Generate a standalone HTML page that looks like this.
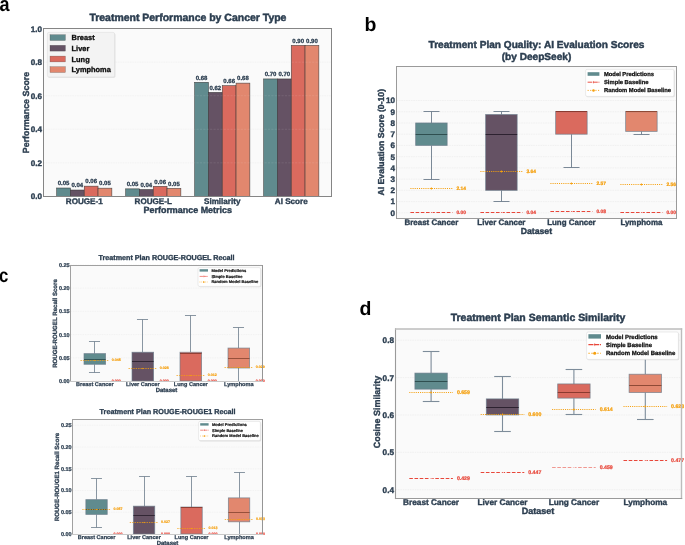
<!DOCTYPE html>
<html><head><meta charset="utf-8"><style>
html,body{margin:0;padding:0;background:#fff;}
svg{display:block;font-family:"Liberation Sans", sans-serif;text-rendering:geometricPrecision;}
</style></head><body>
<div style="will-change:transform;width:685px;height:545px"><svg width="685" height="545" viewBox="0 0 685 545">
<rect width="685" height="545" fill="#fff"/>
<text transform="translate(-0.60,10.60) scale(0.88,1)" font-size="20.5" fill="#000" font-weight="bold">a</text>
<text transform="translate(364.60,31.00) scale(1.0,1)" font-size="19.5" fill="#000" font-weight="bold">b</text>
<text transform="translate(-0.90,282.00) scale(0.86,1)" font-size="19.5" fill="#000" font-weight="bold">c</text>
<text transform="translate(359.40,315.00) scale(1.0,1)" font-size="19.5" fill="#000" font-weight="bold">d</text>
<rect x="43.50" y="28.50" width="288.00" height="168.00" fill="#fafafa" stroke="none" stroke-width="0" />
<line x1="43.50" y1="162.84" x2="331.50" y2="162.84" stroke="#f0f0f0" stroke-width="0.7" stroke-dasharray="1.6,0.8"/>
<line x1="43.50" y1="129.28" x2="331.50" y2="129.28" stroke="#f0f0f0" stroke-width="0.7" stroke-dasharray="1.6,0.8"/>
<line x1="43.50" y1="95.72" x2="331.50" y2="95.72" stroke="#f0f0f0" stroke-width="0.7" stroke-dasharray="1.6,0.8"/>
<line x1="43.50" y1="62.16" x2="331.50" y2="62.16" stroke="#f0f0f0" stroke-width="0.7" stroke-dasharray="1.6,0.8"/>
<text x="42.00" y="199.30" font-size="8.1" text-anchor="end" fill="#2c3e50" stroke="#2c3e50" stroke-width="0.364" font-weight="bold" >0.0</text>
<text x="42.00" y="165.74" font-size="8.1" text-anchor="end" fill="#2c3e50" stroke="#2c3e50" stroke-width="0.364" font-weight="bold" >0.2</text>
<text x="42.00" y="132.18" font-size="8.1" text-anchor="end" fill="#2c3e50" stroke="#2c3e50" stroke-width="0.364" font-weight="bold" >0.4</text>
<text x="42.00" y="98.62" font-size="8.1" text-anchor="end" fill="#2c3e50" stroke="#2c3e50" stroke-width="0.364" font-weight="bold" >0.6</text>
<text x="42.00" y="65.06" font-size="8.1" text-anchor="end" fill="#2c3e50" stroke="#2c3e50" stroke-width="0.364" font-weight="bold" >0.8</text>
<text x="42.00" y="31.50" font-size="8.1" text-anchor="end" fill="#2c3e50" stroke="#2c3e50" stroke-width="0.364" font-weight="bold" >1.0</text>
<rect x="56.65" y="188.01" width="13.80" height="8.39" fill="#608b8e" stroke="#333333" stroke-width="0.6" stroke-opacity="0.85"/>
<text x="63.55" y="185.31" font-size="6.0" text-anchor="middle" fill="#2c3e50" stroke="#2c3e50" stroke-width="0.270" font-weight="bold" >0.05</text>
<rect x="70.45" y="190.02" width="13.80" height="6.38" fill="#655264" stroke="#333333" stroke-width="0.6" stroke-opacity="0.85"/>
<text x="77.35" y="187.32" font-size="6.0" text-anchor="middle" fill="#2c3e50" stroke="#2c3e50" stroke-width="0.270" font-weight="bold" >0.04</text>
<rect x="84.25" y="186.16" width="13.80" height="10.24" fill="#da6a5e" stroke="#333333" stroke-width="0.6" stroke-opacity="0.85"/>
<text x="91.15" y="183.46" font-size="6.0" text-anchor="middle" fill="#2c3e50" stroke="#2c3e50" stroke-width="0.270" font-weight="bold" >0.06</text>
<rect x="98.05" y="188.18" width="13.80" height="8.22" fill="#e2876e" stroke="#333333" stroke-width="0.6" stroke-opacity="0.85"/>
<text x="104.95" y="185.48" font-size="6.0" text-anchor="middle" fill="#2c3e50" stroke="#2c3e50" stroke-width="0.270" font-weight="bold" >0.05</text>
<text x="84.25" y="203.90" font-size="8.1" text-anchor="middle" fill="#2c3e50" stroke="#2c3e50" stroke-width="0.364" font-weight="bold" >ROUGE-1</text>
<rect x="125.65" y="188.85" width="13.80" height="7.55" fill="#608b8e" stroke="#333333" stroke-width="0.6" stroke-opacity="0.85"/>
<text x="132.55" y="186.15" font-size="6.0" text-anchor="middle" fill="#2c3e50" stroke="#2c3e50" stroke-width="0.270" font-weight="bold" >0.05</text>
<rect x="139.45" y="189.52" width="13.80" height="6.88" fill="#655264" stroke="#333333" stroke-width="0.6" stroke-opacity="0.85"/>
<text x="146.35" y="186.82" font-size="6.0" text-anchor="middle" fill="#2c3e50" stroke="#2c3e50" stroke-width="0.270" font-weight="bold" >0.04</text>
<rect x="153.25" y="186.33" width="13.80" height="10.07" fill="#da6a5e" stroke="#333333" stroke-width="0.6" stroke-opacity="0.85"/>
<text x="160.15" y="183.63" font-size="6.0" text-anchor="middle" fill="#2c3e50" stroke="#2c3e50" stroke-width="0.270" font-weight="bold" >0.06</text>
<rect x="167.05" y="188.35" width="13.80" height="8.05" fill="#e2876e" stroke="#333333" stroke-width="0.6" stroke-opacity="0.85"/>
<text x="173.95" y="185.65" font-size="6.0" text-anchor="middle" fill="#2c3e50" stroke="#2c3e50" stroke-width="0.270" font-weight="bold" >0.05</text>
<text x="153.25" y="203.90" font-size="8.1" text-anchor="middle" fill="#2c3e50" stroke="#2c3e50" stroke-width="0.364" font-weight="bold" >ROUGE-L</text>
<rect x="194.65" y="82.30" width="13.80" height="114.10" fill="#608b8e" stroke="#333333" stroke-width="0.6" stroke-opacity="0.85"/>
<text x="201.55" y="79.60" font-size="6.0" text-anchor="middle" fill="#2c3e50" stroke="#2c3e50" stroke-width="0.270" font-weight="bold" >0.68</text>
<rect x="208.45" y="92.36" width="13.80" height="104.04" fill="#655264" stroke="#333333" stroke-width="0.6" stroke-opacity="0.85"/>
<text x="215.35" y="89.66" font-size="6.0" text-anchor="middle" fill="#2c3e50" stroke="#2c3e50" stroke-width="0.270" font-weight="bold" >0.62</text>
<rect x="222.25" y="85.65" width="13.80" height="110.75" fill="#da6a5e" stroke="#333333" stroke-width="0.6" stroke-opacity="0.85"/>
<text x="229.15" y="82.95" font-size="6.0" text-anchor="middle" fill="#2c3e50" stroke="#2c3e50" stroke-width="0.270" font-weight="bold" >0.66</text>
<rect x="236.05" y="83.13" width="13.80" height="113.27" fill="#e2876e" stroke="#333333" stroke-width="0.6" stroke-opacity="0.85"/>
<text x="242.95" y="80.43" font-size="6.0" text-anchor="middle" fill="#2c3e50" stroke="#2c3e50" stroke-width="0.270" font-weight="bold" >0.68</text>
<text x="222.25" y="203.90" font-size="8.1" text-anchor="middle" fill="#2c3e50" stroke="#2c3e50" stroke-width="0.364" font-weight="bold" >Similarity</text>
<rect x="263.65" y="78.94" width="13.80" height="117.46" fill="#608b8e" stroke="#333333" stroke-width="0.6" stroke-opacity="0.85"/>
<text x="270.55" y="76.24" font-size="6.0" text-anchor="middle" fill="#2c3e50" stroke="#2c3e50" stroke-width="0.270" font-weight="bold" >0.70</text>
<rect x="277.45" y="78.94" width="13.80" height="117.46" fill="#655264" stroke="#333333" stroke-width="0.6" stroke-opacity="0.85"/>
<text x="284.35" y="76.24" font-size="6.0" text-anchor="middle" fill="#2c3e50" stroke="#2c3e50" stroke-width="0.270" font-weight="bold" >0.70</text>
<rect x="291.25" y="45.38" width="13.80" height="151.02" fill="#da6a5e" stroke="#333333" stroke-width="0.6" stroke-opacity="0.85"/>
<text x="298.15" y="42.68" font-size="6.0" text-anchor="middle" fill="#2c3e50" stroke="#2c3e50" stroke-width="0.270" font-weight="bold" >0.90</text>
<rect x="305.05" y="45.38" width="13.80" height="151.02" fill="#e2876e" stroke="#333333" stroke-width="0.6" stroke-opacity="0.85"/>
<text x="311.95" y="42.68" font-size="6.0" text-anchor="middle" fill="#2c3e50" stroke="#2c3e50" stroke-width="0.270" font-weight="bold" >0.90</text>
<text x="291.25" y="203.90" font-size="8.1" text-anchor="middle" fill="#2c3e50" stroke="#2c3e50" stroke-width="0.364" font-weight="bold" >AI Score</text>
<line x1="43.50" y1="162.84" x2="331.50" y2="162.84" stroke="#ffffff" stroke-width="0.4" stroke-opacity="0.25" stroke-dasharray="2.2,1.2"/>
<line x1="43.50" y1="129.28" x2="331.50" y2="129.28" stroke="#ffffff" stroke-width="0.4" stroke-opacity="0.25" stroke-dasharray="2.2,1.2"/>
<line x1="43.50" y1="95.72" x2="331.50" y2="95.72" stroke="#ffffff" stroke-width="0.4" stroke-opacity="0.25" stroke-dasharray="2.2,1.2"/>
<line x1="43.50" y1="62.16" x2="331.50" y2="62.16" stroke="#ffffff" stroke-width="0.4" stroke-opacity="0.25" stroke-dasharray="2.2,1.2"/>
<line x1="43.50" y1="28.00" x2="43.50" y2="197.00" stroke="#858585" stroke-width="1.0" />
<line x1="43.00" y1="28.50" x2="332.00" y2="28.50" stroke="#858585" stroke-width="1.0" />
<line x1="331.50" y1="28.00" x2="331.50" y2="197.00" stroke="#858585" stroke-width="1.0" />
<line x1="43.00" y1="196.50" x2="332.00" y2="196.50" stroke="#858585" stroke-width="1.0" />
<rect x="48.20" y="33.20" width="67.20" height="44.60" rx="1.5" fill="#000" fill-opacity="0.1"/>
<rect x="47.40" y="32.40" width="67.20" height="44.60" rx="1.5" fill="#f3f3f3" stroke="#dddddd" stroke-width="0.6"/>
<rect x="50.00" y="34.70" width="15.40" height="5.80" fill="#608b8e" stroke="#3a3a3a" stroke-width="0.4" stroke-opacity="0.6"/>
<text x="71.60" y="40.25" font-size="7.4" text-anchor="start" fill="#111" stroke="#111" stroke-width="0.333" font-weight="bold" >Breast</text>
<rect x="50.00" y="45.30" width="15.40" height="5.80" fill="#655264" stroke="#3a3a3a" stroke-width="0.4" stroke-opacity="0.6"/>
<text x="71.60" y="50.85" font-size="7.4" text-anchor="start" fill="#111" stroke="#111" stroke-width="0.333" font-weight="bold" >Liver</text>
<rect x="50.00" y="56.10" width="15.40" height="5.80" fill="#da6a5e" stroke="#3a3a3a" stroke-width="0.4" stroke-opacity="0.6"/>
<text x="71.60" y="61.65" font-size="7.4" text-anchor="start" fill="#111" stroke="#111" stroke-width="0.333" font-weight="bold" >Lung</text>
<rect x="50.00" y="66.70" width="15.40" height="5.80" fill="#e2876e" stroke="#3a3a3a" stroke-width="0.4" stroke-opacity="0.6"/>
<text x="71.60" y="72.25" font-size="7.4" text-anchor="start" fill="#111" stroke="#111" stroke-width="0.333" font-weight="bold" >Lymphoma</text>
<text x="187.75" y="212.80" font-size="8.95" text-anchor="middle" fill="#2c3e50" stroke="#2c3e50" stroke-width="0.403" font-weight="bold" >Performance Metrics</text>
<text transform="translate(28.89,112.50) rotate(-90)" font-size="8.9" text-anchor="middle" fill="#2c3e50" stroke="#2c3e50" stroke-width="0.401" font-weight="bold">Performance Score</text>
<text x="187.90" y="21.00" font-size="10.47" text-anchor="middle" fill="#2c3e50" stroke="#2c3e50" stroke-width="0.471" font-weight="bold" >Treatment Performance by Cancer Type</text>
<rect x="396.50" y="66.50" width="280.00" height="152.00" fill="#fafafa" stroke="none" stroke-width="0" />
<line x1="396.50" y1="212.80" x2="676.50" y2="212.80" stroke="#ededed" stroke-width="0.7" stroke-dasharray="1.6,0.8"/>
<text x="395.00" y="215.70" font-size="8.1" text-anchor="end" fill="#2c3e50" stroke="#2c3e50" stroke-width="0.364" font-weight="bold" >0</text>
<line x1="396.50" y1="201.57" x2="676.50" y2="201.57" stroke="#ededed" stroke-width="0.7" stroke-dasharray="1.6,0.8"/>
<text x="395.00" y="204.47" font-size="8.1" text-anchor="end" fill="#2c3e50" stroke="#2c3e50" stroke-width="0.364" font-weight="bold" >1</text>
<line x1="396.50" y1="190.34" x2="676.50" y2="190.34" stroke="#ededed" stroke-width="0.7" stroke-dasharray="1.6,0.8"/>
<text x="395.00" y="193.24" font-size="8.1" text-anchor="end" fill="#2c3e50" stroke="#2c3e50" stroke-width="0.364" font-weight="bold" >2</text>
<line x1="396.50" y1="179.11" x2="676.50" y2="179.11" stroke="#ededed" stroke-width="0.7" stroke-dasharray="1.6,0.8"/>
<text x="395.00" y="182.01" font-size="8.1" text-anchor="end" fill="#2c3e50" stroke="#2c3e50" stroke-width="0.364" font-weight="bold" >3</text>
<line x1="396.50" y1="167.88" x2="676.50" y2="167.88" stroke="#ededed" stroke-width="0.7" stroke-dasharray="1.6,0.8"/>
<text x="395.00" y="170.78" font-size="8.1" text-anchor="end" fill="#2c3e50" stroke="#2c3e50" stroke-width="0.364" font-weight="bold" >4</text>
<line x1="396.50" y1="156.65" x2="676.50" y2="156.65" stroke="#ededed" stroke-width="0.7" stroke-dasharray="1.6,0.8"/>
<text x="395.00" y="159.55" font-size="8.1" text-anchor="end" fill="#2c3e50" stroke="#2c3e50" stroke-width="0.364" font-weight="bold" >5</text>
<line x1="396.50" y1="145.42" x2="676.50" y2="145.42" stroke="#ededed" stroke-width="0.7" stroke-dasharray="1.6,0.8"/>
<text x="395.00" y="148.32" font-size="8.1" text-anchor="end" fill="#2c3e50" stroke="#2c3e50" stroke-width="0.364" font-weight="bold" >6</text>
<line x1="396.50" y1="134.19" x2="676.50" y2="134.19" stroke="#ededed" stroke-width="0.7" stroke-dasharray="1.6,0.8"/>
<text x="395.00" y="137.09" font-size="8.1" text-anchor="end" fill="#2c3e50" stroke="#2c3e50" stroke-width="0.364" font-weight="bold" >7</text>
<line x1="396.50" y1="122.96" x2="676.50" y2="122.96" stroke="#ededed" stroke-width="0.7" stroke-dasharray="1.6,0.8"/>
<text x="395.00" y="125.86" font-size="8.1" text-anchor="end" fill="#2c3e50" stroke="#2c3e50" stroke-width="0.364" font-weight="bold" >8</text>
<line x1="396.50" y1="111.73" x2="676.50" y2="111.73" stroke="#ededed" stroke-width="0.7" stroke-dasharray="1.6,0.8"/>
<text x="395.00" y="114.63" font-size="8.1" text-anchor="end" fill="#2c3e50" stroke="#2c3e50" stroke-width="0.364" font-weight="bold" >9</text>
<line x1="396.50" y1="100.50" x2="676.50" y2="100.50" stroke="#ededed" stroke-width="0.7" stroke-dasharray="1.6,0.8"/>
<text x="395.00" y="103.40" font-size="8.1" text-anchor="end" fill="#2c3e50" stroke="#2c3e50" stroke-width="0.364" font-weight="bold" >10</text>
<line x1="431.50" y1="111.50" x2="431.50" y2="122.96" stroke="#6c7c8b" stroke-width="0.9" />
<line x1="423.50" y1="111.50" x2="439.50" y2="111.50" stroke="#6c7c8b" stroke-width="0.9" />
<line x1="431.50" y1="145.42" x2="431.50" y2="179.50" stroke="#6c7c8b" stroke-width="0.9" />
<line x1="423.50" y1="179.50" x2="439.50" y2="179.50" stroke="#6c7c8b" stroke-width="0.9" />
<rect x="415.65" y="122.96" width="31.50" height="22.46" fill="#608b8e" stroke="#6c7c8b" stroke-width="0.8" stroke-opacity="0.8"/>
<line x1="415.65" y1="134.50" x2="447.15" y2="134.50" stroke="#2f4f50" stroke-width="1.2" />
<line x1="410.40" y1="212.50" x2="452.40" y2="212.50" stroke="#e8473a" stroke-width="1.0" stroke-dasharray="3.60,1.60" stroke-opacity="1.0"/>
<rect x="430.20" y="211.70" width="2.40" height="1.60" fill="#fafafa" stroke="none" stroke-width="0" />
<circle cx="431.40" cy="212.50" r="0.55" fill="#e8473a" fill-opacity="1.0"/>
<line x1="410.40" y1="188.50" x2="452.40" y2="188.50" stroke="#f5a00f" stroke-width="1.1" stroke-dasharray="1.05,1.10" stroke-opacity="1.0"/>
<rect x="430.60" y="187.70" width="1.60" height="1.60" fill="#f5a00f" transform="rotate(45 431.40 188.50)"/>
<text x="456.40" y="189.67" font-size="4.9" text-anchor="start" fill="#f5a00f" stroke="#f5a00f" stroke-width="0.221" font-weight="bold" >2.14</text>
<text x="456.40" y="213.67" font-size="4.9" text-anchor="start" fill="#e8473a" stroke="#e8473a" stroke-width="0.221" font-weight="bold" >0.00</text>
<text x="431.40" y="225.45" font-size="7.95" text-anchor="middle" fill="#2c3e50" stroke="#2c3e50" stroke-width="0.358" font-weight="bold" >Breast Cancer</text>
<line x1="501.50" y1="111.50" x2="501.50" y2="114.54" stroke="#6c7c8b" stroke-width="0.9" />
<line x1="493.50" y1="111.50" x2="509.50" y2="111.50" stroke="#6c7c8b" stroke-width="0.9" />
<line x1="501.50" y1="190.34" x2="501.50" y2="201.50" stroke="#6c7c8b" stroke-width="0.9" />
<line x1="493.50" y1="201.50" x2="509.50" y2="201.50" stroke="#6c7c8b" stroke-width="0.9" />
<rect x="485.65" y="114.54" width="31.50" height="75.80" fill="#655264" stroke="#6c7c8b" stroke-width="0.8" stroke-opacity="0.8"/>
<line x1="485.65" y1="134.50" x2="517.15" y2="134.50" stroke="#2d2230" stroke-width="1.2" />
<line x1="480.40" y1="212.50" x2="522.40" y2="212.50" stroke="#e8473a" stroke-width="1.0" stroke-dasharray="3.60,1.60" stroke-opacity="1.0"/>
<rect x="500.20" y="211.70" width="2.40" height="1.60" fill="#fafafa" stroke="none" stroke-width="0" />
<circle cx="501.40" cy="212.50" r="0.55" fill="#e8473a" fill-opacity="1.0"/>
<line x1="480.40" y1="171.50" x2="522.40" y2="171.50" stroke="#f5a00f" stroke-width="1.1" stroke-dasharray="1.05,1.10" stroke-opacity="1.0"/>
<rect x="500.60" y="170.70" width="1.60" height="1.60" fill="#f5a00f" transform="rotate(45 501.40 171.50)"/>
<text x="526.40" y="172.67" font-size="4.9" text-anchor="start" fill="#f5a00f" stroke="#f5a00f" stroke-width="0.221" font-weight="bold" >3.64</text>
<text x="526.40" y="213.67" font-size="4.9" text-anchor="start" fill="#e8473a" stroke="#e8473a" stroke-width="0.221" font-weight="bold" >0.04</text>
<text x="501.40" y="225.45" font-size="7.95" text-anchor="middle" fill="#2c3e50" stroke="#2c3e50" stroke-width="0.358" font-weight="bold" >Liver Cancer</text>
<line x1="571.50" y1="134.19" x2="571.50" y2="167.50" stroke="#6c7c8b" stroke-width="0.9" />
<line x1="563.50" y1="167.50" x2="579.50" y2="167.50" stroke="#6c7c8b" stroke-width="0.9" />
<rect x="555.65" y="111.73" width="31.50" height="22.46" fill="#da6a5e" stroke="#6c7c8b" stroke-width="0.8" stroke-opacity="0.8"/>
<line x1="555.65" y1="111.50" x2="587.15" y2="111.50" stroke="#8a3a30" stroke-width="1.2" />
<line x1="550.40" y1="211.50" x2="592.40" y2="211.50" stroke="#e8473a" stroke-width="1.0" stroke-dasharray="3.60,1.60" stroke-opacity="1.0"/>
<rect x="570.20" y="210.70" width="2.40" height="1.60" fill="#fafafa" stroke="none" stroke-width="0" />
<circle cx="571.40" cy="211.50" r="0.55" fill="#e8473a" fill-opacity="1.0"/>
<line x1="550.40" y1="183.50" x2="592.40" y2="183.50" stroke="#f5a00f" stroke-width="1.1" stroke-dasharray="1.05,1.10" stroke-opacity="1.0"/>
<rect x="570.60" y="182.70" width="1.60" height="1.60" fill="#f5a00f" transform="rotate(45 571.40 183.50)"/>
<text x="596.40" y="184.67" font-size="4.9" text-anchor="start" fill="#f5a00f" stroke="#f5a00f" stroke-width="0.221" font-weight="bold" >2.57</text>
<text x="596.40" y="212.67" font-size="4.9" text-anchor="start" fill="#e8473a" stroke="#e8473a" stroke-width="0.221" font-weight="bold" >0.08</text>
<text x="571.40" y="225.45" font-size="7.95" text-anchor="middle" fill="#2c3e50" stroke="#2c3e50" stroke-width="0.358" font-weight="bold" >Lung Cancer</text>
<line x1="641.50" y1="131.38" x2="641.50" y2="134.50" stroke="#6c7c8b" stroke-width="0.9" />
<line x1="633.50" y1="134.50" x2="649.50" y2="134.50" stroke="#6c7c8b" stroke-width="0.9" />
<rect x="625.65" y="111.73" width="31.50" height="19.65" fill="#e2876e" stroke="#6c7c8b" stroke-width="0.8" stroke-opacity="0.8"/>
<line x1="625.65" y1="111.50" x2="657.15" y2="111.50" stroke="#8f4a36" stroke-width="1.2" />
<line x1="620.40" y1="212.50" x2="662.40" y2="212.50" stroke="#e8473a" stroke-width="1.0" stroke-dasharray="3.60,1.60" stroke-opacity="1.0"/>
<rect x="640.20" y="211.70" width="2.40" height="1.60" fill="#fafafa" stroke="none" stroke-width="0" />
<circle cx="641.40" cy="212.50" r="0.55" fill="#e8473a" fill-opacity="1.0"/>
<line x1="620.40" y1="184.50" x2="662.40" y2="184.50" stroke="#f5a00f" stroke-width="1.1" stroke-dasharray="1.05,1.10" stroke-opacity="1.0"/>
<rect x="640.60" y="183.70" width="1.60" height="1.60" fill="#f5a00f" transform="rotate(45 641.40 184.50)"/>
<text x="666.40" y="185.67" font-size="4.9" text-anchor="start" fill="#f5a00f" stroke="#f5a00f" stroke-width="0.221" font-weight="bold" >2.56</text>
<text x="666.40" y="213.67" font-size="4.9" text-anchor="start" fill="#e8473a" stroke="#e8473a" stroke-width="0.221" font-weight="bold" >0.00</text>
<text x="641.40" y="225.45" font-size="7.95" text-anchor="middle" fill="#2c3e50" stroke="#2c3e50" stroke-width="0.358" font-weight="bold" >Lymphoma</text>
<line x1="396.50" y1="66.00" x2="396.50" y2="219.00" stroke="#9a9a9a" stroke-width="1.0" />
<line x1="396.00" y1="66.50" x2="677.00" y2="66.50" stroke="#9a9a9a" stroke-width="1.0" />
<line x1="676.50" y1="66.00" x2="676.50" y2="219.00" stroke="#9a9a9a" stroke-width="1.0" />
<line x1="396.00" y1="218.50" x2="677.00" y2="218.50" stroke="#9a9a9a" stroke-width="1.0" />
<rect x="586.40" y="70.20" width="88.40" height="27.00" rx="1.5" fill="#000" fill-opacity="0.1"/>
<rect x="585.60" y="69.40" width="88.40" height="27.00" rx="1.5" fill="#ffffff" stroke="#dddddd" stroke-width="0.6"/>
<rect x="587.60" y="72.20" width="11.80" height="3.60" fill="#608b8e" stroke="none" stroke-width="0" />
<line x1="587.60" y1="82.20" x2="599.40" y2="82.20" stroke="#e8473a" stroke-width="0.936" stroke-dasharray="4.72,0.71"/>
<line x1="593.50" y1="80.94" x2="593.50" y2="83.46" stroke="#e8473a" stroke-width="0.5" />
<line x1="587.60" y1="90.40" x2="599.40" y2="90.40" stroke="#f5a00f" stroke-width="0.936" stroke-dasharray="1.08,1.53"/>
<circle cx="593.50" cy="90.40" r="1.26" fill="#f5a00f"/>
<text x="604.00" y="76.08" font-size="5.8" text-anchor="start" fill="#111" stroke="#111" stroke-width="0.261" font-weight="bold" >Model Predictions</text>
<text x="604.00" y="84.28" font-size="5.8" text-anchor="start" fill="#111" stroke="#111" stroke-width="0.261" font-weight="bold" >Simple Baseline</text>
<text x="604.00" y="92.48" font-size="5.8" text-anchor="start" fill="#111" stroke="#111" stroke-width="0.261" font-weight="bold" >Random Model Baseline</text>
<text x="536.40" y="234.31" font-size="8.7" text-anchor="middle" fill="#2c3e50" stroke="#2c3e50" stroke-width="0.391" font-weight="bold" >Dataset</text>
<text transform="translate(384.09,142.20) rotate(-90)" font-size="8.64" text-anchor="middle" fill="#2c3e50" stroke="#2c3e50" stroke-width="0.389" font-weight="bold">AI Evaluation Score (0-10)</text>
<text x="536.50" y="48.40" font-size="10.12" text-anchor="middle" fill="#2c3e50" stroke="#2c3e50" stroke-width="0.455" font-weight="bold" >Treatment Plan Quality: AI Evaluation Scores</text>
<text x="536.50" y="59.60" font-size="10.12" text-anchor="middle" fill="#2c3e50" stroke="#2c3e50" stroke-width="0.455" font-weight="bold" >(by DeepSeek)</text>
<rect x="70.50" y="265.50" width="192.00" height="116.00" fill="#fafafa" stroke="none" stroke-width="0" />
<text x="69.70" y="382.97" font-size="5.5" text-anchor="end" fill="#2c3e50" stroke="#2c3e50" stroke-width="0.247" font-weight="bold" >0.00</text>
<line x1="70.50" y1="357.80" x2="262.50" y2="357.80" stroke="#ededed" stroke-width="0.5" stroke-dasharray="1.6,0.8"/>
<text x="69.70" y="359.77" font-size="5.5" text-anchor="end" fill="#2c3e50" stroke="#2c3e50" stroke-width="0.247" font-weight="bold" >0.05</text>
<line x1="70.50" y1="334.60" x2="262.50" y2="334.60" stroke="#ededed" stroke-width="0.5" stroke-dasharray="1.6,0.8"/>
<text x="69.70" y="336.57" font-size="5.5" text-anchor="end" fill="#2c3e50" stroke="#2c3e50" stroke-width="0.247" font-weight="bold" >0.10</text>
<line x1="70.50" y1="311.40" x2="262.50" y2="311.40" stroke="#ededed" stroke-width="0.5" stroke-dasharray="1.6,0.8"/>
<text x="69.70" y="313.37" font-size="5.5" text-anchor="end" fill="#2c3e50" stroke="#2c3e50" stroke-width="0.247" font-weight="bold" >0.15</text>
<line x1="70.50" y1="288.20" x2="262.50" y2="288.20" stroke="#ededed" stroke-width="0.5" stroke-dasharray="1.6,0.8"/>
<text x="69.70" y="290.17" font-size="5.5" text-anchor="end" fill="#2c3e50" stroke="#2c3e50" stroke-width="0.247" font-weight="bold" >0.20</text>
<line x1="70.50" y1="265.00" x2="262.50" y2="265.00" stroke="#ededed" stroke-width="0.5" stroke-dasharray="1.6,0.8"/>
<text x="69.70" y="266.97" font-size="5.5" text-anchor="end" fill="#2c3e50" stroke="#2c3e50" stroke-width="0.247" font-weight="bold" >0.25</text>
<line x1="94.50" y1="341.50" x2="94.50" y2="353.62" stroke="#6c7c8b" stroke-width="0.8" />
<line x1="88.98" y1="341.50" x2="100.02" y2="341.50" stroke="#6c7c8b" stroke-width="0.8" />
<line x1="94.50" y1="364.30" x2="94.50" y2="372.50" stroke="#6c7c8b" stroke-width="0.8" />
<line x1="88.98" y1="372.50" x2="100.02" y2="372.50" stroke="#6c7c8b" stroke-width="0.8" />
<rect x="84.00" y="353.62" width="21.60" height="10.67" fill="#608b8e" stroke="#6c7c8b" stroke-width="0.8" stroke-opacity="0.8"/>
<line x1="84.00" y1="359.50" x2="105.60" y2="359.50" stroke="#2f4f50" stroke-width="0.9" />
<line x1="80.50" y1="381.50" x2="109.10" y2="381.50" stroke="#e8473a" stroke-width="0.68" stroke-dasharray="2.45,1.09" stroke-opacity="1.0"/>
<rect x="93.98" y="380.96" width="1.63" height="1.09" fill="#fafafa" stroke="none" stroke-width="0" />
<circle cx="94.80" cy="381.50" r="0.37" fill="#e8473a" fill-opacity="1.0"/>
<line x1="80.50" y1="360.50" x2="109.10" y2="360.50" stroke="#f5a00f" stroke-width="0.7480000000000001" stroke-dasharray="1.4,1.0" stroke-opacity="1.0"/>
<rect x="94.26" y="359.96" width="1.09" height="1.09" fill="#f5a00f" transform="rotate(45 94.80 360.50)"/>
<text x="111.82" y="361.36" font-size="3.6" text-anchor="start" fill="#f5a00f" stroke="#f5a00f" stroke-width="0.162" font-weight="bold" >0.045</text>
<text x="111.82" y="382.36" font-size="3.6" text-anchor="start" fill="#e8473a" stroke="#e8473a" stroke-width="0.162" font-weight="bold" >0.000</text>
<text x="94.80" y="385.99" font-size="5.55" text-anchor="middle" fill="#2c3e50" stroke="#2c3e50" stroke-width="0.250" font-weight="bold" >Breast Cancer</text>
<line x1="142.50" y1="319.50" x2="142.50" y2="352.23" stroke="#6c7c8b" stroke-width="0.8" />
<line x1="136.98" y1="319.50" x2="148.02" y2="319.50" stroke="#6c7c8b" stroke-width="0.8" />
<rect x="132.00" y="352.23" width="21.60" height="28.77" fill="#655264" stroke="#6c7c8b" stroke-width="0.8" stroke-opacity="0.8"/>
<line x1="132.00" y1="361.50" x2="153.60" y2="361.50" stroke="#2d2230" stroke-width="0.9" />
<line x1="128.50" y1="381.50" x2="157.10" y2="381.50" stroke="#e8473a" stroke-width="0.68" stroke-dasharray="2.45,1.09" stroke-opacity="1.0"/>
<rect x="141.98" y="380.96" width="1.63" height="1.09" fill="#fafafa" stroke="none" stroke-width="0" />
<circle cx="142.80" cy="381.50" r="0.37" fill="#e8473a" fill-opacity="1.0"/>
<line x1="128.50" y1="368.50" x2="157.10" y2="368.50" stroke="#f5a00f" stroke-width="0.7480000000000001" stroke-dasharray="1.4,1.0" stroke-opacity="1.0"/>
<rect x="142.26" y="367.96" width="1.09" height="1.09" fill="#f5a00f" transform="rotate(45 142.80 368.50)"/>
<text x="159.82" y="369.36" font-size="3.6" text-anchor="start" fill="#f5a00f" stroke="#f5a00f" stroke-width="0.162" font-weight="bold" >0.026</text>
<text x="159.82" y="382.36" font-size="3.6" text-anchor="start" fill="#e8473a" stroke="#e8473a" stroke-width="0.162" font-weight="bold" >0.000</text>
<text x="142.80" y="385.99" font-size="5.55" text-anchor="middle" fill="#2c3e50" stroke="#2c3e50" stroke-width="0.250" font-weight="bold" >Liver Cancer</text>
<line x1="190.50" y1="315.50" x2="190.50" y2="352.23" stroke="#6c7c8b" stroke-width="0.8" />
<line x1="184.98" y1="315.50" x2="196.02" y2="315.50" stroke="#6c7c8b" stroke-width="0.8" />
<rect x="180.00" y="352.23" width="21.60" height="28.77" fill="#da6a5e" stroke="#6c7c8b" stroke-width="0.8" stroke-opacity="0.8"/>
<line x1="180.00" y1="353.50" x2="201.60" y2="353.50" stroke="#8a3a30" stroke-width="0.9" />
<line x1="176.50" y1="381.50" x2="205.10" y2="381.50" stroke="#e8473a" stroke-width="0.68" stroke-dasharray="2.45,1.09" stroke-opacity="1.0"/>
<rect x="189.98" y="380.96" width="1.63" height="1.09" fill="#fafafa" stroke="none" stroke-width="0" />
<circle cx="190.80" cy="381.50" r="0.37" fill="#e8473a" fill-opacity="1.0"/>
<line x1="176.50" y1="375.50" x2="205.10" y2="375.50" stroke="#f5a00f" stroke-width="0.7480000000000001" stroke-dasharray="1.4,1.0" stroke-opacity="1.0"/>
<rect x="190.26" y="374.96" width="1.09" height="1.09" fill="#f5a00f" transform="rotate(45 190.80 375.50)"/>
<text x="207.82" y="376.36" font-size="3.6" text-anchor="start" fill="#f5a00f" stroke="#f5a00f" stroke-width="0.162" font-weight="bold" >0.012</text>
<text x="207.82" y="382.36" font-size="3.6" text-anchor="start" fill="#e8473a" stroke="#e8473a" stroke-width="0.162" font-weight="bold" >0.000</text>
<text x="190.80" y="385.99" font-size="5.55" text-anchor="middle" fill="#2c3e50" stroke="#2c3e50" stroke-width="0.250" font-weight="bold" >Lung Cancer</text>
<line x1="238.50" y1="327.50" x2="238.50" y2="348.06" stroke="#6c7c8b" stroke-width="0.8" />
<line x1="232.98" y1="327.50" x2="244.02" y2="327.50" stroke="#6c7c8b" stroke-width="0.8" />
<line x1="238.50" y1="368.01" x2="238.50" y2="381.50" stroke="#6c7c8b" stroke-width="0.8" />
<line x1="232.98" y1="381.50" x2="244.02" y2="381.50" stroke="#6c7c8b" stroke-width="0.8" />
<rect x="228.00" y="348.06" width="21.60" height="19.95" fill="#e2876e" stroke="#6c7c8b" stroke-width="0.8" stroke-opacity="0.8"/>
<line x1="228.00" y1="358.50" x2="249.60" y2="358.50" stroke="#8f4a36" stroke-width="0.9" />
<line x1="224.50" y1="381.50" x2="253.10" y2="381.50" stroke="#e8473a" stroke-width="0.68" stroke-dasharray="2.45,1.09" stroke-opacity="1.0"/>
<rect x="237.98" y="380.96" width="1.63" height="1.09" fill="#fafafa" stroke="none" stroke-width="0" />
<circle cx="238.80" cy="381.50" r="0.37" fill="#e8473a" fill-opacity="1.0"/>
<line x1="224.50" y1="367.50" x2="253.10" y2="367.50" stroke="#f5a00f" stroke-width="0.7480000000000001" stroke-dasharray="1.4,1.0" stroke-opacity="1.0"/>
<rect x="238.26" y="366.96" width="1.09" height="1.09" fill="#f5a00f" transform="rotate(45 238.80 367.50)"/>
<text x="255.82" y="368.36" font-size="3.6" text-anchor="start" fill="#f5a00f" stroke="#f5a00f" stroke-width="0.162" font-weight="bold" >0.029</text>
<text x="255.82" y="382.36" font-size="3.6" text-anchor="start" fill="#e8473a" stroke="#e8473a" stroke-width="0.162" font-weight="bold" >0.000</text>
<text x="238.80" y="385.99" font-size="5.55" text-anchor="middle" fill="#2c3e50" stroke="#2c3e50" stroke-width="0.250" font-weight="bold" >Lymphoma</text>
<line x1="70.50" y1="265.00" x2="70.50" y2="382.00" stroke="#a0a0a0" stroke-width="1.0" />
<line x1="70.00" y1="265.50" x2="263.00" y2="265.50" stroke="#a0a0a0" stroke-width="1.0" />
<line x1="262.50" y1="265.00" x2="262.50" y2="382.00" stroke="#959595" stroke-width="1.0" />
<line x1="70.00" y1="381.50" x2="263.00" y2="381.50" stroke="#c8c8c8" stroke-width="1.0" />
<rect x="198.80" y="268.40" width="62.60" height="18.80" rx="1.5" fill="#000" fill-opacity="0.1"/>
<rect x="198.00" y="267.60" width="62.60" height="18.80" rx="1.5" fill="#ffffff" stroke="#dddddd" stroke-width="0.6"/>
<rect x="199.60" y="269.20" width="8.40" height="2.40" fill="#608b8e" stroke="none" stroke-width="0" />
<line x1="199.60" y1="276.40" x2="208.00" y2="276.40" stroke="#e8473a" stroke-width="0.624" stroke-dasharray="3.36,0.50"/>
<line x1="203.80" y1="275.56" x2="203.80" y2="277.24" stroke="#e8473a" stroke-width="0.5" />
<line x1="199.60" y1="282.00" x2="208.00" y2="282.00" stroke="#f5a00f" stroke-width="0.624" stroke-dasharray="0.72,1.09"/>
<circle cx="203.80" cy="282.00" r="0.84" fill="#f5a00f"/>
<text x="211.40" y="271.85" font-size="4.05" text-anchor="start" fill="#111" stroke="#111" stroke-width="0.182" font-weight="bold" >Model Predictions</text>
<text x="211.40" y="277.85" font-size="4.05" text-anchor="start" fill="#111" stroke="#111" stroke-width="0.182" font-weight="bold" >Simple Baseline</text>
<text x="211.40" y="283.45" font-size="4.05" text-anchor="start" fill="#111" stroke="#111" stroke-width="0.182" font-weight="bold" >Random Model Baseline</text>
<text x="166.50" y="392.15" font-size="6.0" text-anchor="middle" fill="#2c3e50" stroke="#2c3e50" stroke-width="0.270" font-weight="bold" >Dataset</text>
<text transform="translate(57.38,323.50) rotate(-90)" font-size="6.1" text-anchor="middle" fill="#2c3e50" stroke="#2c3e50" stroke-width="0.274" font-weight="bold">ROUGE-ROUGEL Recall Score</text>
<text x="166.50" y="260.28" font-size="7.2" text-anchor="middle" fill="#2c3e50" stroke="#2c3e50" stroke-width="0.324" font-weight="bold" >Treatment Plan ROUGE-ROUGEL Recall</text>
<rect x="72.50" y="419.50" width="190.00" height="115.00" fill="#fafafa" stroke="none" stroke-width="0" />
<text x="71.70" y="535.97" font-size="5.5" text-anchor="end" fill="#2c3e50" stroke="#2c3e50" stroke-width="0.247" font-weight="bold" >0.00</text>
<line x1="72.50" y1="512.25" x2="262.50" y2="512.25" stroke="#ededed" stroke-width="0.5" stroke-dasharray="1.6,0.8"/>
<text x="71.70" y="514.22" font-size="5.5" text-anchor="end" fill="#2c3e50" stroke="#2c3e50" stroke-width="0.247" font-weight="bold" >0.05</text>
<line x1="72.50" y1="490.50" x2="262.50" y2="490.50" stroke="#ededed" stroke-width="0.5" stroke-dasharray="1.6,0.8"/>
<text x="71.70" y="492.47" font-size="5.5" text-anchor="end" fill="#2c3e50" stroke="#2c3e50" stroke-width="0.247" font-weight="bold" >0.10</text>
<line x1="72.50" y1="468.75" x2="262.50" y2="468.75" stroke="#ededed" stroke-width="0.5" stroke-dasharray="1.6,0.8"/>
<text x="71.70" y="470.72" font-size="5.5" text-anchor="end" fill="#2c3e50" stroke="#2c3e50" stroke-width="0.247" font-weight="bold" >0.15</text>
<line x1="72.50" y1="447.00" x2="262.50" y2="447.00" stroke="#ededed" stroke-width="0.5" stroke-dasharray="1.6,0.8"/>
<text x="71.70" y="448.97" font-size="5.5" text-anchor="end" fill="#2c3e50" stroke="#2c3e50" stroke-width="0.247" font-weight="bold" >0.20</text>
<line x1="72.50" y1="425.25" x2="262.50" y2="425.25" stroke="#ededed" stroke-width="0.5" stroke-dasharray="1.6,0.8"/>
<text x="71.70" y="427.22" font-size="5.5" text-anchor="end" fill="#2c3e50" stroke="#2c3e50" stroke-width="0.247" font-weight="bold" >0.25</text>
<line x1="96.50" y1="478.50" x2="96.50" y2="499.63" stroke="#6c7c8b" stroke-width="0.8" />
<line x1="91.04" y1="478.50" x2="101.96" y2="478.50" stroke="#6c7c8b" stroke-width="0.8" />
<line x1="96.50" y1="514.42" x2="96.50" y2="527.50" stroke="#6c7c8b" stroke-width="0.8" />
<line x1="91.04" y1="527.50" x2="101.96" y2="527.50" stroke="#6c7c8b" stroke-width="0.8" />
<rect x="85.86" y="499.63" width="21.38" height="14.79" fill="#608b8e" stroke="#6c7c8b" stroke-width="0.8" stroke-opacity="0.8"/>
<line x1="85.86" y1="509.50" x2="107.24" y2="509.50" stroke="#2f4f50" stroke-width="0.9" />
<line x1="82.25" y1="534.50" x2="110.85" y2="534.50" stroke="#e8473a" stroke-width="0.68" stroke-dasharray="2.45,1.09" stroke-opacity="1.0"/>
<rect x="95.73" y="533.96" width="1.63" height="1.09" fill="#fafafa" stroke="none" stroke-width="0" />
<circle cx="96.55" cy="534.50" r="0.37" fill="#e8473a" fill-opacity="1.0"/>
<line x1="82.25" y1="509.50" x2="110.85" y2="509.50" stroke="#f5a00f" stroke-width="0.7480000000000001" stroke-dasharray="1.4,1.0" stroke-opacity="1.0"/>
<rect x="96.01" y="508.96" width="1.09" height="1.09" fill="#f5a00f" transform="rotate(45 96.55 509.50)"/>
<text x="113.57" y="510.36" font-size="3.6" text-anchor="start" fill="#f5a00f" stroke="#f5a00f" stroke-width="0.162" font-weight="bold" >0.057</text>
<text x="113.57" y="535.36" font-size="3.6" text-anchor="start" fill="#e8473a" stroke="#e8473a" stroke-width="0.162" font-weight="bold" >0.000</text>
<text x="96.55" y="538.79" font-size="5.55" text-anchor="middle" fill="#2c3e50" stroke="#2c3e50" stroke-width="0.250" font-weight="bold" >Breast Cancer</text>
<line x1="144.50" y1="476.50" x2="144.50" y2="506.16" stroke="#6c7c8b" stroke-width="0.8" />
<line x1="139.04" y1="476.50" x2="149.96" y2="476.50" stroke="#6c7c8b" stroke-width="0.8" />
<rect x="133.36" y="506.16" width="21.38" height="27.84" fill="#655264" stroke="#6c7c8b" stroke-width="0.8" stroke-opacity="0.8"/>
<line x1="133.36" y1="515.50" x2="154.74" y2="515.50" stroke="#2d2230" stroke-width="0.9" />
<line x1="129.75" y1="534.50" x2="158.35" y2="534.50" stroke="#e8473a" stroke-width="0.68" stroke-dasharray="2.45,1.09" stroke-opacity="1.0"/>
<rect x="143.23" y="533.96" width="1.63" height="1.09" fill="#fafafa" stroke="none" stroke-width="0" />
<circle cx="144.05" cy="534.50" r="0.37" fill="#e8473a" fill-opacity="1.0"/>
<line x1="129.75" y1="522.50" x2="158.35" y2="522.50" stroke="#f5a00f" stroke-width="0.7480000000000001" stroke-dasharray="1.4,1.0" stroke-opacity="1.0"/>
<rect x="143.51" y="521.96" width="1.09" height="1.09" fill="#f5a00f" transform="rotate(45 144.05 522.50)"/>
<text x="161.07" y="523.36" font-size="3.6" text-anchor="start" fill="#f5a00f" stroke="#f5a00f" stroke-width="0.162" font-weight="bold" >0.027</text>
<text x="161.07" y="535.36" font-size="3.6" text-anchor="start" fill="#e8473a" stroke="#e8473a" stroke-width="0.162" font-weight="bold" >0.000</text>
<text x="144.05" y="538.79" font-size="5.55" text-anchor="middle" fill="#2c3e50" stroke="#2c3e50" stroke-width="0.250" font-weight="bold" >Liver Cancer</text>
<line x1="191.50" y1="476.50" x2="191.50" y2="507.03" stroke="#6c7c8b" stroke-width="0.8" />
<line x1="186.04" y1="476.50" x2="196.96" y2="476.50" stroke="#6c7c8b" stroke-width="0.8" />
<rect x="180.86" y="507.03" width="21.38" height="26.97" fill="#da6a5e" stroke="#6c7c8b" stroke-width="0.8" stroke-opacity="0.8"/>
<line x1="180.86" y1="507.50" x2="202.24" y2="507.50" stroke="#8a3a30" stroke-width="0.9" />
<line x1="177.25" y1="534.50" x2="205.85" y2="534.50" stroke="#e8473a" stroke-width="0.68" stroke-dasharray="2.45,1.09" stroke-opacity="1.0"/>
<rect x="190.73" y="533.96" width="1.63" height="1.09" fill="#fafafa" stroke="none" stroke-width="0" />
<circle cx="191.55" cy="534.50" r="0.37" fill="#e8473a" fill-opacity="1.0"/>
<line x1="177.25" y1="528.50" x2="205.85" y2="528.50" stroke="#f5a00f" stroke-width="0.7480000000000001" stroke-dasharray="1.4,1.0" stroke-opacity="1.0"/>
<rect x="191.01" y="527.96" width="1.09" height="1.09" fill="#f5a00f" transform="rotate(45 191.55 528.50)"/>
<text x="208.57" y="529.36" font-size="3.6" text-anchor="start" fill="#f5a00f" stroke="#f5a00f" stroke-width="0.162" font-weight="bold" >0.013</text>
<text x="208.57" y="535.36" font-size="3.6" text-anchor="start" fill="#e8473a" stroke="#e8473a" stroke-width="0.162" font-weight="bold" >0.000</text>
<text x="191.55" y="538.79" font-size="5.55" text-anchor="middle" fill="#2c3e50" stroke="#2c3e50" stroke-width="0.250" font-weight="bold" >Lung Cancer</text>
<line x1="239.50" y1="472.50" x2="239.50" y2="497.89" stroke="#6c7c8b" stroke-width="0.8" />
<line x1="234.04" y1="472.50" x2="244.96" y2="472.50" stroke="#6c7c8b" stroke-width="0.8" />
<line x1="239.50" y1="521.82" x2="239.50" y2="534.50" stroke="#6c7c8b" stroke-width="0.8" />
<line x1="234.04" y1="534.50" x2="244.96" y2="534.50" stroke="#6c7c8b" stroke-width="0.8" />
<rect x="228.36" y="497.89" width="21.38" height="23.93" fill="#e2876e" stroke="#6c7c8b" stroke-width="0.8" stroke-opacity="0.8"/>
<line x1="228.36" y1="512.50" x2="249.74" y2="512.50" stroke="#8f4a36" stroke-width="0.9" />
<line x1="224.75" y1="534.50" x2="253.35" y2="534.50" stroke="#e8473a" stroke-width="0.68" stroke-dasharray="2.45,1.09" stroke-opacity="1.0"/>
<rect x="238.23" y="533.96" width="1.63" height="1.09" fill="#fafafa" stroke="none" stroke-width="0" />
<circle cx="239.05" cy="534.50" r="0.37" fill="#e8473a" fill-opacity="1.0"/>
<line x1="224.75" y1="519.50" x2="253.35" y2="519.50" stroke="#f5a00f" stroke-width="0.7480000000000001" stroke-dasharray="1.4,1.0" stroke-opacity="1.0"/>
<rect x="238.51" y="518.96" width="1.09" height="1.09" fill="#f5a00f" transform="rotate(45 239.05 519.50)"/>
<text x="256.07" y="520.36" font-size="3.6" text-anchor="start" fill="#f5a00f" stroke="#f5a00f" stroke-width="0.162" font-weight="bold" >0.033</text>
<text x="256.07" y="535.36" font-size="3.6" text-anchor="start" fill="#e8473a" stroke="#e8473a" stroke-width="0.162" font-weight="bold" >0.000</text>
<text x="239.05" y="538.79" font-size="5.55" text-anchor="middle" fill="#2c3e50" stroke="#2c3e50" stroke-width="0.250" font-weight="bold" >Lymphoma</text>
<line x1="72.50" y1="419.00" x2="72.50" y2="535.00" stroke="#a0a0a0" stroke-width="1.0" />
<line x1="72.00" y1="419.50" x2="263.00" y2="419.50" stroke="#a0a0a0" stroke-width="1.0" />
<line x1="262.50" y1="419.00" x2="262.50" y2="535.00" stroke="#959595" stroke-width="1.0" />
<line x1="72.00" y1="534.50" x2="263.00" y2="534.50" stroke="#c8c8c8" stroke-width="1.0" />
<rect x="199.40" y="422.20" width="61.80" height="19.20" rx="1.5" fill="#000" fill-opacity="0.1"/>
<rect x="198.60" y="421.40" width="61.80" height="19.20" rx="1.5" fill="#ffffff" stroke="#dddddd" stroke-width="0.6"/>
<rect x="200.20" y="423.20" width="8.40" height="2.40" fill="#608b8e" stroke="none" stroke-width="0" />
<line x1="200.20" y1="430.20" x2="208.60" y2="430.20" stroke="#e8473a" stroke-width="0.624" stroke-dasharray="3.36,0.50"/>
<line x1="204.40" y1="429.36" x2="204.40" y2="431.04" stroke="#e8473a" stroke-width="0.5" />
<line x1="200.20" y1="436.00" x2="208.60" y2="436.00" stroke="#f5a00f" stroke-width="0.624" stroke-dasharray="0.72,1.09"/>
<circle cx="204.40" cy="436.00" r="0.84" fill="#f5a00f"/>
<text x="212.00" y="425.85" font-size="4.05" text-anchor="start" fill="#111" stroke="#111" stroke-width="0.182" font-weight="bold" >Model Predictions</text>
<text x="212.00" y="431.65" font-size="4.05" text-anchor="start" fill="#111" stroke="#111" stroke-width="0.182" font-weight="bold" >Simple Baseline</text>
<text x="212.00" y="437.45" font-size="4.05" text-anchor="start" fill="#111" stroke="#111" stroke-width="0.182" font-weight="bold" >Random Model Baseline</text>
<text x="167.50" y="544.75" font-size="6.0" text-anchor="middle" fill="#2c3e50" stroke="#2c3e50" stroke-width="0.270" font-weight="bold" >Dataset</text>
<text transform="translate(59.38,477.00) rotate(-90)" font-size="6.1" text-anchor="middle" fill="#2c3e50" stroke="#2c3e50" stroke-width="0.274" font-weight="bold">ROUGE-ROUGE1 Recall Score</text>
<text x="167.50" y="413.98" font-size="7.2" text-anchor="middle" fill="#2c3e50" stroke="#2c3e50" stroke-width="0.324" font-weight="bold" >Treatment Plan ROUGE-ROUGE1 Recall</text>
<rect x="395.50" y="329.00" width="286.00" height="169.50" fill="#fafafa" stroke="none" stroke-width="0" />
<line x1="395.50" y1="489.72" x2="681.50" y2="489.72" stroke="#ededed" stroke-width="0.7" stroke-dasharray="1.6,0.8"/>
<text x="394.00" y="492.66" font-size="8.2" text-anchor="end" fill="#2c3e50" stroke="#2c3e50" stroke-width="0.369" font-weight="bold" >0.4</text>
<line x1="395.50" y1="452.34" x2="681.50" y2="452.34" stroke="#ededed" stroke-width="0.7" stroke-dasharray="1.6,0.8"/>
<text x="394.00" y="455.28" font-size="8.2" text-anchor="end" fill="#2c3e50" stroke="#2c3e50" stroke-width="0.369" font-weight="bold" >0.5</text>
<line x1="395.50" y1="414.96" x2="681.50" y2="414.96" stroke="#ededed" stroke-width="0.7" stroke-dasharray="1.6,0.8"/>
<text x="394.00" y="417.90" font-size="8.2" text-anchor="end" fill="#2c3e50" stroke="#2c3e50" stroke-width="0.369" font-weight="bold" >0.6</text>
<line x1="395.50" y1="377.58" x2="681.50" y2="377.58" stroke="#ededed" stroke-width="0.7" stroke-dasharray="1.6,0.8"/>
<text x="394.00" y="380.52" font-size="8.2" text-anchor="end" fill="#2c3e50" stroke="#2c3e50" stroke-width="0.369" font-weight="bold" >0.7</text>
<line x1="395.50" y1="340.20" x2="681.50" y2="340.20" stroke="#ededed" stroke-width="0.7" stroke-dasharray="1.6,0.8"/>
<text x="394.00" y="343.14" font-size="8.2" text-anchor="end" fill="#2c3e50" stroke="#2c3e50" stroke-width="0.369" font-weight="bold" >0.8</text>
<line x1="431.10" y1="351.50" x2="431.10" y2="373.09" stroke="#7d8c9a" stroke-width="1.1" />
<line x1="422.80" y1="351.50" x2="439.40" y2="351.50" stroke="#7d8c9a" stroke-width="1.1" />
<line x1="431.10" y1="389.17" x2="431.10" y2="401.50" stroke="#7d8c9a" stroke-width="1.1" />
<line x1="422.80" y1="401.50" x2="439.40" y2="401.50" stroke="#7d8c9a" stroke-width="1.1" />
<rect x="414.90" y="373.09" width="32.40" height="16.07" fill="#608b8e" stroke="#6c7c8b" stroke-width="0.8" stroke-opacity="0.8"/>
<line x1="414.90" y1="381.50" x2="447.30" y2="381.50" stroke="#2f4f50" stroke-width="1.2" />
<line x1="409.30" y1="478.50" x2="452.90" y2="478.50" stroke="#e8473a" stroke-width="1.0" stroke-dasharray="3.60,1.60" stroke-opacity="1.0"/>
<rect x="429.90" y="477.70" width="2.40" height="1.60" fill="#fafafa" stroke="none" stroke-width="0" />
<circle cx="431.10" cy="478.50" r="0.55" fill="#e8473a" fill-opacity="1.0"/>
<line x1="409.30" y1="392.50" x2="452.90" y2="392.50" stroke="#f5a00f" stroke-width="1.1" stroke-dasharray="1.05,1.10" stroke-opacity="1.0"/>
<rect x="430.30" y="391.70" width="1.60" height="1.60" fill="#f5a00f" transform="rotate(45 431.10 392.50)"/>
<text x="456.90" y="393.74" font-size="5.2" text-anchor="start" fill="#f5a00f" stroke="#f5a00f" stroke-width="0.234" font-weight="bold" >0.659</text>
<text x="456.90" y="479.74" font-size="5.2" text-anchor="start" fill="#e8473a" stroke="#e8473a" stroke-width="0.234" font-weight="bold" >0.429</text>
<text x="431.10" y="505.35" font-size="8.25" text-anchor="middle" fill="#2c3e50" stroke="#2c3e50" stroke-width="0.371" font-weight="bold" >Breast Cancer</text>
<line x1="502.50" y1="376.50" x2="502.50" y2="398.89" stroke="#7d8c9a" stroke-width="1.1" />
<line x1="494.20" y1="376.50" x2="510.80" y2="376.50" stroke="#7d8c9a" stroke-width="1.1" />
<line x1="502.50" y1="414.96" x2="502.50" y2="431.50" stroke="#7d8c9a" stroke-width="1.1" />
<line x1="494.20" y1="431.50" x2="510.80" y2="431.50" stroke="#7d8c9a" stroke-width="1.1" />
<rect x="486.30" y="398.89" width="32.40" height="16.07" fill="#655264" stroke="#6c7c8b" stroke-width="0.8" stroke-opacity="0.8"/>
<line x1="486.30" y1="407.50" x2="518.70" y2="407.50" stroke="#2d2230" stroke-width="1.2" />
<line x1="480.70" y1="472.50" x2="524.30" y2="472.50" stroke="#e8473a" stroke-width="1.0" stroke-dasharray="3.60,1.60" stroke-opacity="1.0"/>
<rect x="501.30" y="471.70" width="2.40" height="1.60" fill="#fafafa" stroke="none" stroke-width="0" />
<circle cx="502.50" cy="472.50" r="0.55" fill="#e8473a" fill-opacity="1.0"/>
<line x1="480.70" y1="414.50" x2="524.30" y2="414.50" stroke="#f5a00f" stroke-width="1.1" stroke-dasharray="1.05,1.10" stroke-opacity="1.0"/>
<rect x="501.70" y="413.70" width="1.60" height="1.60" fill="#f5a00f" transform="rotate(45 502.50 414.50)"/>
<text x="528.30" y="415.74" font-size="5.2" text-anchor="start" fill="#f5a00f" stroke="#f5a00f" stroke-width="0.234" font-weight="bold" >0.600</text>
<text x="528.30" y="473.74" font-size="5.2" text-anchor="start" fill="#e8473a" stroke="#e8473a" stroke-width="0.234" font-weight="bold" >0.447</text>
<text x="502.50" y="505.35" font-size="8.25" text-anchor="middle" fill="#2c3e50" stroke="#2c3e50" stroke-width="0.371" font-weight="bold" >Liver Cancer</text>
<line x1="573.90" y1="369.50" x2="573.90" y2="383.93" stroke="#7d8c9a" stroke-width="1.1" />
<line x1="565.60" y1="369.50" x2="582.20" y2="369.50" stroke="#7d8c9a" stroke-width="1.1" />
<line x1="573.90" y1="398.14" x2="573.90" y2="414.50" stroke="#7d8c9a" stroke-width="1.1" />
<line x1="565.60" y1="414.50" x2="582.20" y2="414.50" stroke="#7d8c9a" stroke-width="1.1" />
<rect x="557.70" y="383.93" width="32.40" height="14.20" fill="#da6a5e" stroke="#6c7c8b" stroke-width="0.8" stroke-opacity="0.8"/>
<line x1="557.70" y1="392.50" x2="590.10" y2="392.50" stroke="#8a3a30" stroke-width="1.2" />
<line x1="552.10" y1="467.50" x2="595.70" y2="467.50" stroke="#e8473a" stroke-width="1.0" stroke-dasharray="3.60,1.60" stroke-opacity="0.55"/>
<rect x="572.70" y="466.70" width="2.40" height="1.60" fill="#fafafa" stroke="none" stroke-width="0" />
<circle cx="573.90" cy="467.50" r="0.55" fill="#e8473a" fill-opacity="0.55"/>
<line x1="552.10" y1="409.50" x2="595.70" y2="409.50" stroke="#f5a00f" stroke-width="1.1" stroke-dasharray="1.05,1.10" stroke-opacity="1.0"/>
<rect x="573.10" y="408.70" width="1.60" height="1.60" fill="#f5a00f" transform="rotate(45 573.90 409.50)"/>
<text x="599.70" y="410.74" font-size="5.2" text-anchor="start" fill="#f5a00f" stroke="#f5a00f" stroke-width="0.234" font-weight="bold" >0.614</text>
<text x="599.70" y="468.74" font-size="5.2" text-anchor="start" fill="#e8473a" stroke="#e8473a" stroke-width="0.234" font-weight="bold" >0.459</text>
<text x="573.90" y="505.35" font-size="8.25" text-anchor="middle" fill="#2c3e50" stroke="#2c3e50" stroke-width="0.371" font-weight="bold" >Lung Cancer</text>
<line x1="645.30" y1="340.50" x2="645.30" y2="374.22" stroke="#7d8c9a" stroke-width="1.1" />
<line x1="637.00" y1="340.50" x2="653.60" y2="340.50" stroke="#7d8c9a" stroke-width="1.1" />
<line x1="645.30" y1="392.53" x2="645.30" y2="419.50" stroke="#7d8c9a" stroke-width="1.1" />
<line x1="637.00" y1="419.50" x2="653.60" y2="419.50" stroke="#7d8c9a" stroke-width="1.1" />
<rect x="629.10" y="374.22" width="32.40" height="18.32" fill="#e2876e" stroke="#6c7c8b" stroke-width="0.8" stroke-opacity="0.8"/>
<line x1="629.10" y1="385.50" x2="661.50" y2="385.50" stroke="#8f4a36" stroke-width="1.2" />
<line x1="623.50" y1="460.50" x2="667.10" y2="460.50" stroke="#e8473a" stroke-width="1.0" stroke-dasharray="3.60,1.60" stroke-opacity="1.0"/>
<rect x="644.10" y="459.70" width="2.40" height="1.60" fill="#fafafa" stroke="none" stroke-width="0" />
<circle cx="645.30" cy="460.50" r="0.55" fill="#e8473a" fill-opacity="1.0"/>
<line x1="623.50" y1="406.50" x2="667.10" y2="406.50" stroke="#f5a00f" stroke-width="1.1" stroke-dasharray="1.05,1.10" stroke-opacity="1.0"/>
<rect x="644.50" y="405.70" width="1.60" height="1.60" fill="#f5a00f" transform="rotate(45 645.30 406.50)"/>
<text x="671.10" y="407.74" font-size="5.2" text-anchor="start" fill="#f5a00f" stroke="#f5a00f" stroke-width="0.234" font-weight="bold" >0.623</text>
<text x="671.10" y="461.74" font-size="5.2" text-anchor="start" fill="#e8473a" stroke="#e8473a" stroke-width="0.234" font-weight="bold" >0.477</text>
<text x="645.30" y="505.35" font-size="8.25" text-anchor="middle" fill="#2c3e50" stroke="#2c3e50" stroke-width="0.371" font-weight="bold" >Lymphoma</text>
<line x1="395.50" y1="328.25" x2="395.50" y2="499.05" stroke="#9a9a9a" stroke-width="1.1" />
<line x1="394.95" y1="329.00" x2="682.20" y2="329.00" stroke="#bcbcbc" stroke-width="1.5" />
<line x1="681.50" y1="328.25" x2="681.50" y2="499.05" stroke="#bcbcbc" stroke-width="1.4" />
<line x1="394.95" y1="498.50" x2="682.20" y2="498.50" stroke="#9a9a9a" stroke-width="1.1" />
<rect x="587.40" y="332.80" width="91.80" height="27.40" rx="1.5" fill="#000" fill-opacity="0.1"/>
<rect x="586.60" y="332.00" width="91.80" height="27.40" rx="1.5" fill="#ffffff" stroke="#dddddd" stroke-width="0.6"/>
<rect x="588.40" y="334.20" width="12.60" height="4.40" fill="#608b8e" stroke="none" stroke-width="0" />
<line x1="588.40" y1="344.60" x2="601.00" y2="344.60" stroke="#e8473a" stroke-width="1.1440000000000001" stroke-dasharray="5.04,0.76"/>
<line x1="594.70" y1="343.06" x2="594.70" y2="346.14" stroke="#e8473a" stroke-width="0.5" />
<line x1="588.40" y1="353.20" x2="601.00" y2="353.20" stroke="#f5a00f" stroke-width="1.1440000000000001" stroke-dasharray="1.32,1.64"/>
<circle cx="594.70" cy="353.20" r="1.54" fill="#f5a00f"/>
<text x="606.00" y="338.55" font-size="6.0" text-anchor="start" fill="#111" stroke="#111" stroke-width="0.270" font-weight="bold" >Model Predictions</text>
<text x="606.00" y="346.75" font-size="6.0" text-anchor="start" fill="#111" stroke="#111" stroke-width="0.270" font-weight="bold" >Simple Baseline</text>
<text x="606.00" y="355.35" font-size="6.0" text-anchor="start" fill="#111" stroke="#111" stroke-width="0.270" font-weight="bold" >Random Model Baseline</text>
<text x="538.10" y="514.12" font-size="9.0" text-anchor="middle" fill="#2c3e50" stroke="#2c3e50" stroke-width="0.405" font-weight="bold" >Dataset</text>
<text transform="translate(379.70,412.00) rotate(-90)" font-size="8.95" text-anchor="middle" fill="#2c3e50" stroke="#2c3e50" stroke-width="0.403" font-weight="bold">Cosine Similarity</text>
<text x="538.00" y="321.15" font-size="10.48" text-anchor="middle" fill="#2c3e50" stroke="#2c3e50" stroke-width="0.472" font-weight="bold" >Treatment Plan Semantic Similarity</text>
</svg></div>
</body></html>
